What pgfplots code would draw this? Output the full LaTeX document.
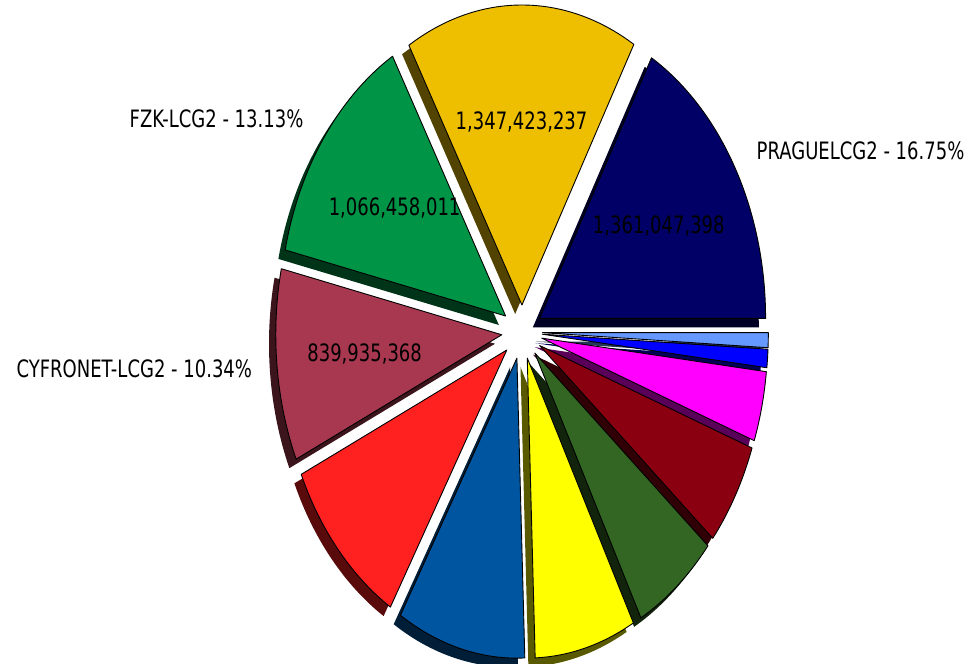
\documentclass[border=0pt]{standalone}
\usepackage{pgfplots}
\pgfplotsset{compat=1.18}
\usepackage{pgfplotstable}
\usepackage{graphicx}
\usepackage{fontspec}
\setmainfont{DejaVu Sans}

\definecolor{cA}{RGB}{0,0,102}
\definecolor{cB}{RGB}{238,190,0}
\definecolor{cC}{RGB}{0,148,70}
\definecolor{cD}{RGB}{168,56,80}
\definecolor{cE}{RGB}{255,32,32}
\definecolor{cF}{RGB}{0,85,160}
\definecolor{cG}{RGB}{255,255,0}
\definecolor{cH}{RGB}{51,102,34}
\definecolor{cI}{RGB}{139,0,17}
\definecolor{cJ}{RGB}{255,0,255}
\definecolor{cK}{RGB}{0,0,255}
\definecolor{cL}{RGB}{102,153,255}

% slices, counter-clockwise from 3 o'clock
\pgfplotstableread{
name value color inner outer vtext
PRAGUELCG2 1361047398 cA 1 1 1,361,047,398
unnamed 1347423237 cB 1 0 1,347,423,237
FZK-LCG2 1066458011 cC 1 1 1,066,458,011
CYFRONET-LCG2 839935368 cD 1 1 839,935,368
s5 778400000 cE 0 0 -
s6 745100000 cF 0 0 -
s7 586700000 cG 0 0 -
s8 496500000 cH 0 0 -
s9 451800000 cI 0 0 -
s10 305900000 cJ 0 0 -
s11 80000000 cK 0 0 -
s12 65000000 cL 0 0 -
}\slices

\newcommand\sv[2]{\csname s#1#2\endcsname}
\newcommand\expl{0.09}
\newcommand\labfont{\fontsize{18}{20}\selectfont}

\begin{document}
\begin{tikzpicture}
\useasboundingbox (0,0) rectangle (978pt,664pt);
\pgfplotstablegetrowsof{\slices}
\pgfmathtruncatemacro\nlast{\pgfplotsretval-1}
\xdef\total{0}
\pgfplotsforeachungrouped \i in {0,...,\nlast}{%
  \pgfplotstablegetelem{\i}{value}\of\slices
  \pgfkeys{/pgf/fpu=true,/pgf/fpu/output format=fixed}%
  \pgfmathparse{\total+\pgfplotsretval}%
  \xdef\total{\pgfmathresult}%
  \pgfkeys{/pgf/fpu=false}%
}
\xdef\cum{0}
\pgfplotsforeachungrouped \i in {0,...,\nlast}{%
  \pgfplotstablegetelem{\i}{value}\of\slices
  \let\val\pgfplotsretval
  \pgfkeys{/pgf/fpu=true,/pgf/fpu/output format=fixed}%
  \pgfmathparse{\val/\total*360}\let\myang\pgfmathresult
  \pgfmathparse{\cum+\myang}\let\myB\pgfmathresult
  \pgfmathparse{\cum+\myang/2}\let\myM\pgfmathresult
  \pgfmathparse{\val/\total*100}\let\myP\pgfmathresult
  \pgfkeys{/pgf/fpu=false}%
  \expandafter\xdef\csname sA\i\endcsname{\cum}%
  \expandafter\xdef\csname sB\i\endcsname{\myB}%
  \expandafter\xdef\csname sM\i\endcsname{\myM}%
  \expandafter\xdef\csname sP\i\endcsname{\myP}%
  \xdef\cum{\myB}%
  \pgfmathsetmacro\myc{cos(\myM)}%
  \ifdim\myc pt>0pt \expandafter\xdef\csname sW\i\endcsname{west}%
  \else \expandafter\xdef\csname sW\i\endcsname{east}\fi
  \pgfplotstablegetelem{\i}{color}\of\slices
  \colorlet{slice\i}{\pgfplotsretval}%
  \colorlet{shadow\i}{\pgfplotsretval!35!black}%
  \pgfplotstablegetelem{\i}{name}\of\slices
  \expandafter\xdef\csname sN\i\endcsname{\pgfplotsretval}%
  \pgfplotstablegetelem{\i}{vtext}\of\slices
  \expandafter\xdef\csname sT\i\endcsname{\pgfplotsretval}%
  \pgfplotstablegetelem{\i}{inner}\of\slices
  \expandafter\xdef\csname sI\i\endcsname{\pgfplotsretval}%
  \pgfplotstablegetelem{\i}{outer}\of\slices
  \expandafter\xdef\csname sO\i\endcsname{\pgfplotsretval}%
}
\begin{axis}[
  hide axis, clip=false,
  x=226pt, y=300pt,
  xmin=-2.3, xmax=2.0, ymin=-1.09, ymax=1.12,
  at={(522pt,332pt)}, anchor=origin,
]
% shadows
\pgfplotsinvokeforeach{0,...,\nlast}{
  \fill[shadow#1]
    (axis cs:{\expl*cos(\sv{M}{#1})-0.03},{\expl*sin(\sv{M}{#1})-0.03})
    -- (axis cs:{\expl*cos(\sv{M}{#1})-0.03+cos(\sv{A}{#1})},{\expl*sin(\sv{M}{#1})-0.03+sin(\sv{A}{#1})})
    arc[start angle=\sv{A}{#1}, end angle=\sv{B}{#1}, x radius=226pt, y radius=300pt]
    -- cycle;
}
% wedges
\pgfplotsinvokeforeach{0,...,\nlast}{
  \filldraw[fill=slice#1, draw=black, line width=0.9pt, line join=round]
    (axis cs:{\expl*cos(\sv{M}{#1})},{\expl*sin(\sv{M}{#1})})
    -- (axis cs:{\expl*cos(\sv{M}{#1})+cos(\sv{A}{#1})},{\expl*sin(\sv{M}{#1})+sin(\sv{A}{#1})})
    arc[start angle=\sv{A}{#1}, end angle=\sv{B}{#1}, x radius=226pt, y radius=300pt]
    -- cycle;
}
% labels
\pgfplotsinvokeforeach{0,...,\nlast}{
  \ifnum\sv{I}{#1}=1
    \node[font=\labfont, text=black, inner sep=0pt]
      at (axis cs:{0.70*cos(\sv{M}{#1})},{0.70*sin(\sv{M}{#1})})
      {\scalebox{1}[1.33]{\sv{T}{#1}}};
  \fi
  \ifnum\sv{O}{#1}=1
    \node[font=\labfont, text=black, inner sep=0pt, anchor=\sv{W}{#1}]
      at (axis cs:{1.2*cos(\sv{M}{#1})},{1.2*sin(\sv{M}{#1})})
      {\scalebox{1}[1.33]{\sv{N}{#1} - \pgfmathprintnumber[fixed,precision=2,fixed zerofill,assume math mode=true]{\sv{P}{#1}}\%}};
  \fi
}
\end{axis}
\end{tikzpicture}
\end{document}
